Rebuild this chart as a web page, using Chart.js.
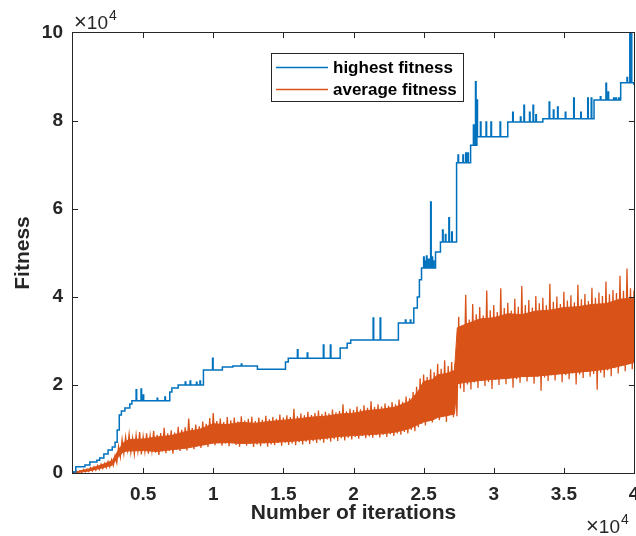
<!DOCTYPE html>
<html lang="en">
<head>
<meta charset="UTF-8">
<title>Fitness vs iterations</title>
<script src="https://cdn.jsdelivr.net/npm/chart.js@4"></script>
<style>
  body { margin: 0; background: #fff; }
  #quadro { width: 636px; height: 536px; }
</style>
</head>
<body>
<div id="quadro"><canvas id="grafico" width="636" height="536"></canvas></div>

<script>
// highest fitness: points where the best value changes (plus the short spikes)
const blueIter = [0, 200, 850, 1200, 1700, 1900, 2200, 2500, 2800, 3000, 3150, 3300, 3450, 3700, 4050, 4200,
  4500, 4540, 4850, 4890, 5000, 5040, 6000, 6040, 6550, 6590, 6900, 7050, 7500,
  8000, 8040, 8350, 8390, 8800, 8840, 9050, 9090, 9300, 9950, 9990, 10650, 11400, 12000, 12040, 13150,
  15150, 15350, 16000, 16040, 16700, 16740, 17850, 17890, 18350, 18390, 19050, 19550, 19800,
  21400, 21440, 21900, 21940, 23200, 23700, 23740, 24050, 24090, 24300, 24550, 24700, 24850,
  25000, 25040, 25100, 25140, 25200, 25240, 25350, 25390, 25500, 25540, 25600, 25640, 25700, 25740, 25850,
  26200, 26350, 26390, 26550, 26590, 26800, 26840, 27000, 27040, 27350,
  27450, 27490, 27800, 27840, 28000, 28040, 28150, 28190, 28350,
  28550, 28590, 28700, 28740, 28800, 28840, 29050, 29090, 29450, 29490, 29800, 29840, 30450, 30490, 31000,
  31350, 31390, 31900, 31940, 32150, 32190, 32550, 32590, 32800, 32840, 33000, 33040, 33500,
  33950, 33990, 34250, 34290, 34550, 34590, 35100, 35140, 35700, 35740, 36200, 36240, 36700, 36740, 36950, 36990, 37150,
  37600, 37640, 38000, 38040, 38150, 38190, 38550, 38590, 38700, 38740, 38900, 38940, 39050,
  39500, 39540, 39700, 39740, 39800, 39840, 40000];
const blueFit = [200, 1400, 1800, 2500, 2900, 3400, 4300, 5200, 5900, 7000, 9800, 13200, 14100, 14800, 15700, 16400,
  18900, 16400, 19100, 16400, 17700, 16400, 17000, 16400, 17300, 16400, 18400, 19300, 20000,
  20700, 20000, 20900, 20000, 20600, 20000, 20900, 20000, 23400, 26100, 23400, 24100, 24300, 24800, 24300, 23600,
  25200, 26100, 28000, 26100, 27300, 26100, 29100, 26100, 29100, 26100, 28400, 29500, 30200,
  35200, 30200, 35200, 30200, 34100, 34800, 34100, 34800, 34100, 37500, 40000, 43900, 46600,
  49100, 46600, 48200, 46600, 49300, 46600, 48600, 46600, 61600, 46600, 49100, 46600, 48200, 46600, 50200,
  52500, 55200, 52500, 54200, 52500, 58000, 52500, 54800, 52500, 70500,
  72300, 70500, 72300, 70500, 72700, 70500, 72700, 70500, 74500,
  79100, 74500, 88900, 74500, 84800, 76400, 79800, 76400, 79800, 76400, 79800, 76400, 79800, 76400, 79800,
  82000, 79800, 80900, 79800, 83600, 79800, 82000, 79800, 83600, 79800, 81400, 79800, 80500,
  84300, 80500, 82500, 80500, 83200, 80500, 82000, 80500, 85200, 80500, 82000, 80500, 85200, 80500, 85200, 80500, 84800,
  85500, 84800, 88600, 84800, 86600, 84800, 85200, 84800, 85200, 84800, 85200, 84800, 88700,
  89900, 88700, 100000, 88700, 100000, 88700, 88200];

// average fitness, solid part of the band (typical top and bottom)
const coreIter = [0, 1000, 2000, 2800, 3200, 3600, 4000, 5000, 6000, 7000, 8000, 9000, 10000, 11000, 12000,
  13000, 14000, 15000, 16000, 17000, 18000, 19000, 20000, 21000, 22000, 23000, 24000, 24600, 25000, 25600,
  26000, 26600, 27200, 27400, 28000, 29000, 30000, 31000, 32000, 33000, 34000, 35000, 36000, 37000, 38000,
  39000, 40000];
const coreHigh = [150, 800, 1800, 2800, 5000, 6900, 7600, 7700, 8200, 8500, 9400, 9900, 11200, 11000, 11500,
  11300, 11700, 12000, 12300, 12700, 12900, 13400, 13600, 14200, 14500, 15000, 16300, 18500, 20800, 21200,
  22300, 22600, 23300, 33000, 33800, 35000, 35300, 36200, 36000, 36800, 37000, 37600, 37800, 38300, 38500,
  39500, 39800];
const coreLow = [0, 400, 1100, 1800, 3500, 4900, 5000, 5100, 4900, 5300, 5600, 6200, 6800, 6900, 6700,
  6800, 6900, 7100, 7300, 7600, 7900, 8300, 8500, 8700, 8900, 9300, 10100, 11000, 11600, 12000,
  12600, 13000, 13400, 20300, 20600, 21000, 21300, 21500, 21900, 22000, 22300, 22600, 22900, 23200, 23600,
  24300, 25100];

// average fitness: extreme values of the oscillation, read every 250 iterations
const avgIter = [0, 250, 500, 750, 1000, 1250, 1500, 1750, 2000, 2250, 2500, 2750, 3000, 3250, 3500, 3750,
  4000, 4250, 4500, 4750, 5000, 5250, 5500, 5750, 6000, 6250, 6500, 6750, 7000, 7250, 7500, 7750,
  8000, 8250, 8500, 8750, 9000, 9250, 9500, 9750, 10000, 10250, 10500, 10750, 11000, 11250, 11500, 11750,
  12000, 12250, 12500, 12750, 13000, 13250, 13500, 13750, 14000, 14250, 14500, 14750, 15000, 15250, 15500, 15750,
  16000, 16250, 16500, 16750, 17000, 17250, 17500, 17750, 18000, 18250, 18500, 18750, 19000, 19250, 19500, 19750,
  20000, 20250, 20500, 20750, 21000, 21250, 21500, 21750, 22000, 22250, 22500, 22750, 23000, 23250, 23500, 23750,
  24000, 24250, 24500, 24750, 25000, 25250, 25500, 25750, 26000, 26250, 26500, 26750, 27000, 27250, 27500, 27750,
  28000, 28250, 28500, 28750, 29000, 29250, 29500, 29750, 30000, 30250, 30500, 30750, 31000, 31250, 31500, 31750,
  32000, 32250, 32500, 32750, 33000, 33250, 33500, 33750, 34000, 34250, 34500, 34750, 35000, 35250, 35500, 35750,
  36000, 36250, 36500, 36750, 37000, 37250, 37500, 37750, 38000, 38250, 38500, 38750, 39000, 39250, 39500, 39750,
  40000];
const avgHigh = [200, 400, 500, 800, 900, 1200, 1400, 1700, 2000, 2200,
  2600, 3000, 3900, 6000, 7600, 8200, 8800, 7900, 8600, 9300,
  8300, 9000, 8500, 9600, 8700, 9100, 10300, 9000, 9700, 9200,
  10500, 9800, 10400, 12400, 10200, 11000, 10600, 11700, 11200, 12500,
  13600, 11800, 12400, 11600, 12700, 12000, 12600, 11700, 12900, 11900,
  12300, 12800, 11800, 12600, 12100, 13000, 12200, 12700, 12300, 13300,
  12600, 13100, 12700, 14600, 12900, 13500, 13100, 13900, 13200, 13600,
  14200, 13400, 13900, 13500, 14400, 13800, 14100, 15600, 14000, 14600,
  14300, 15100, 14500, 15400, 14800, 16300, 15000, 15600, 15100, 15800,
  15300, 16100, 15600, 16700, 16200, 17400, 17000, 18400, 19600, 21500,
  22400, 21800, 23600, 22900, 24800, 23700, 25600, 24300, 25200, 24900,
  35500, 33600, 40500, 34900, 38400, 36100, 37700, 35800, 41500, 37000,
  38200, 36600, 42000, 37500, 38700, 36900, 39600, 37800, 42500, 38200,
  39300, 37600, 40200, 38600, 39800, 38100, 43000, 38900, 40100, 38400,
  41200, 39200, 40400, 38800, 42800, 39500, 40700, 39100, 42100, 39800,
  41000, 40200, 43500, 40600, 41600, 40900, 44800, 41400, 46500, 42000,
  41500];
const avgLow = [0, 50, 100, 250, 350, 450, 650, 800, 1000, 1200,
  1400, 1700, 2300, 3600, 4400, 5200, 4700, 4300, 5000, 4200,
  4900, 4400, 5100, 4600, 4100, 4900, 4500, 5000, 4400, 5300,
  5000, 5600, 5100, 5800, 5400, 6200, 5700, 6300, 5900, 6600,
  6300, 6900, 6200, 6700, 6100, 6800, 6400, 6000, 6700, 6200,
  6600, 5900, 6500, 6100, 6700, 6000, 6500, 6300, 6800, 6200,
  6900, 6400, 6700, 6300, 7000, 6500, 7100, 6600, 7200, 6800,
  7400, 6900, 7600, 7100, 7700, 7300, 7900, 7400, 8000, 7600,
  8200, 7800, 8400, 7900, 8300, 8000, 8600, 8100, 8700, 8200,
  8800, 8400, 9000, 8700, 9300, 9000, 9800, 9500, 10400, 11200,
  10800, 12000, 11500, 12600, 12000, 13200, 11600, 13300, 12700, 12900,
  19200, 18400, 20100, 19000, 20600, 19300, 21000, 19800, 20700, 19100,
  21200, 20000, 21400, 20200, 21600, 19400, 21300, 20500, 21900, 20800,
  22000, 20300, 21800, 18700, 21700, 20900, 22200, 21000, 22500, 20600,
  22300, 21300, 22700, 20100, 22400, 21600, 23000, 21900, 22500, 18900,
  22800, 21700, 23300, 22000, 23800, 22600, 24300, 23100, 24700, 23600,
  25300];

const legendas = ['highest fitness', 'average fitness'];
const cores = ['#0072BD', '#D95319'];
const fonte = "'Liberation Sans', Arial, Helvetica, sans-serif";
const corEixo = '#262626';

function pares(xs, ys) {
  return xs.map(function (x, i) { return { x: x, y: ys[i] }; });
}

// the average oscillates every generation: go top, bottom, top, bottom...
// (bottom reading placed half a step after its top reading)
function serrilhado(xs, altos, baixos) {
  const pts = [];
  xs.forEach(function (x, i) {
    pts.push({ x: x, y: altos[i] });
    if (i < xs.length - 1) pts.push({ x: x + 125, y: baixos[i] });
  });
  return pts;
}

// box, inward ticks, legend and the x10^4 labels, MATLAB style
const moldura = {
  id: 'moldura',
  afterDraw(chart) {
    const ctx = chart.ctx;
    const a = chart.chartArea;
    const sx = chart.scales.x;
    const sy = chart.scales.y;
    const L = a.left - 0.5, R = a.right + 0.5, T = a.top - 0.5, B = a.bottom + 0.5;
    ctx.save();
    ctx.strokeStyle = corEixo;
    ctx.lineWidth = 1;
    ctx.strokeRect(L, T, R - L, B - T);

    ctx.beginPath();
    sx.ticks.forEach(function (t) {
      if (t.value <= sx.min || t.value >= sx.max) return;
      const p = Math.round(sx.getPixelForValue(t.value)) + 0.5;
      ctx.moveTo(p, B); ctx.lineTo(p, B - 5.6);
      ctx.moveTo(p, T); ctx.lineTo(p, T + 5.6);
    });
    sy.ticks.forEach(function (t) {
      if (t.value <= sy.min || t.value >= sy.max) return;
      const p = Math.round(sy.getPixelForValue(t.value)) + 0.5;
      ctx.moveTo(L, p); ctx.lineTo(L + 5.6, p);
      ctx.moveTo(R, p); ctx.lineTo(R - 5.6, p);
    });
    ctx.stroke();

    // legend
    const lx = 271, ly = 53, lw = 193, lh = 49;
    ctx.fillStyle = '#fff';
    ctx.fillRect(lx, ly, lw, lh);
    ctx.strokeStyle = corEixo;
    ctx.strokeRect(lx + 0.5, ly + 0.5, lw - 1, lh - 1);
    ctx.font = 'bold 17px ' + fonte;
    ctx.textBaseline = 'middle';
    ctx.textAlign = 'left';
    legendas.forEach(function (txt, i) {
      const y = ly + 14 + i * 22;
      ctx.strokeStyle = cores[i];
      ctx.lineWidth = 1.3;
      ctx.beginPath();
      ctx.moveTo(lx + 5, y + 0.5);
      ctx.lineTo(lx + 57, y + 0.5);
      ctx.stroke();
      ctx.fillStyle = '#000';
      ctx.fillText(txt, lx + 62, y + 1);
    });

    // exponent labels
    function expoente(x, y) {
      ctx.fillStyle = corEixo;
      ctx.textBaseline = 'alphabetic';
      ctx.textAlign = 'left';
      ctx.font = '22px ' + fonte;
      ctx.fillText('\u00d7', x, y);
      let w = ctx.measureText('\u00d7').width;
      ctx.font = '19px ' + fonte;
      ctx.fillText('10', x + w, y);
      w += ctx.measureText('10').width;
      ctx.font = '14px ' + fonte;
      ctx.fillText('4', x + w + 1, y - 9);
    }
    expoente(a.left + 1, a.top - 4);
    expoente(a.right - 48, 533);
    ctx.restore();
  }
};

const config = {
  type: 'line',
  data: {
    datasets: [{
      label: legendas[0],
      data: pares(blueIter, blueFit),
      stepped: true,
      borderColor: cores[0],
      borderWidth: 1.5,
      pointRadius: 0,
      fill: false
    }, {
      label: legendas[1],
      data: serrilhado(avgIter, avgHigh, avgLow),
      borderColor: cores[1],
      borderWidth: 1.3,
      pointRadius: 0,
      fill: false
    }, {
      label: legendas[1] + ' top',
      data: pares(coreIter, coreHigh),
      borderColor: cores[1],
      backgroundColor: cores[1],
      borderWidth: 1,
      pointRadius: 0,
      fill: '+1'
    }, {
      label: legendas[1] + ' bottom',
      data: pares(coreIter, coreLow),
      borderColor: cores[1],
      borderWidth: 1,
      pointRadius: 0,
      fill: false
    }]
  },
  options: {
    responsive: false,
    animation: false,
    events: [],
    layout: { padding: { top: 33, right: 2, left: 0, bottom: 0 } },
    plugins: { legend: { display: false }, tooltip: { enabled: false } },
    scales: {
      x: {
        type: 'linear',
        min: 0,
        max: 40000,
        grid: { display: false, drawTicks: false },
        border: { display: false },
        ticks: {
          stepSize: 5000,
          autoSkip: false,
          maxRotation: 0,
          padding: 10,
          color: corEixo,
          font: { family: fonte, size: 19, weight: 'bold' },
          callback: function (v) { return v === 0 ? '' : String(v / 10000); }
        },
        title: {
          display: true,
          text: 'Number of iterations',
          color: corEixo,
          font: { family: fonte, size: 21, weight: 'bold' },
          padding: { top: 0, bottom: 10 }
        },
        afterFit: function (s) { s.height = 63; s.paddingLeft = 0; s.paddingRight = 0; }
      },
      y: {
        min: 0,
        max: 100000,
        grid: { display: false, drawTicks: false },
        border: { display: false },
        ticks: {
          stepSize: 20000,
          padding: 10,
          color: corEixo,
          font: { family: fonte, size: 19, weight: 'bold' },
          callback: function (v) { return String(v / 10000); }
        },
        title: {
          display: true,
          text: 'Fitness',
          color: corEixo,
          font: { family: fonte, size: 21, weight: 'bold' },
          padding: { top: 11, bottom: 0 }
        },
        afterFit: function (s) { s.width = 73; }
      }
    }
  },
  plugins: [moldura]
};

let meuGrafico = new Chart(document.getElementById('grafico'), config);
</script>
</body>
</html>
